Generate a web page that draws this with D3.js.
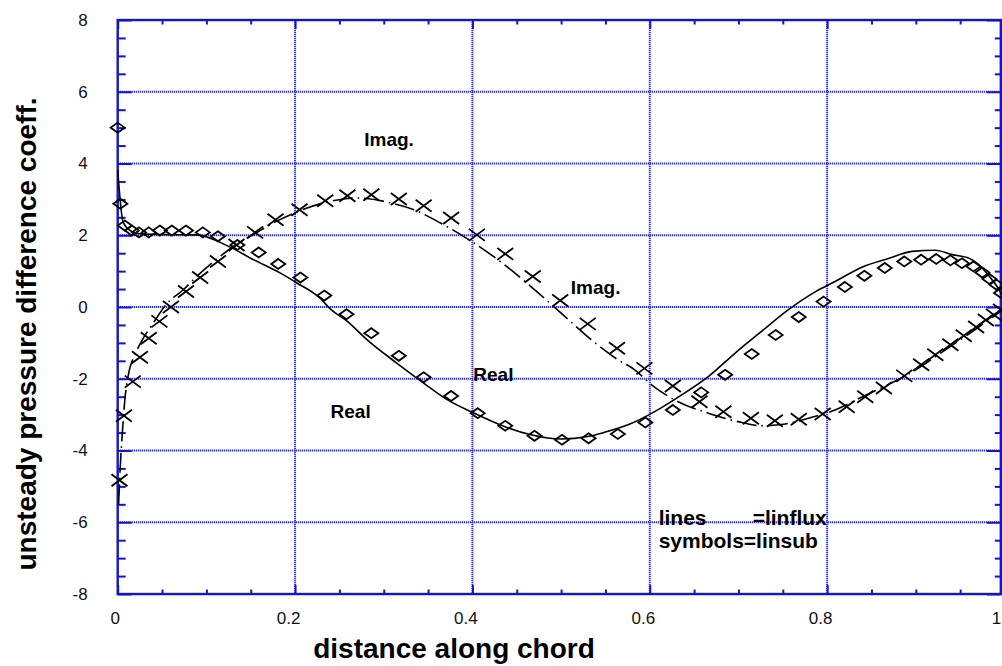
<!DOCTYPE html>
<html>
<head>
<meta charset="utf-8">
<script src="https://cdn.jsdelivr.net/npm/d3@7"></script>
<style>
  html, body { margin: 0; padding: 0; background: #fff; }
  svg { display: block; }
  text { font-family: "Liberation Sans", Arial, sans-serif; }
</style>
</head>
<body>
<svg id="chart" width="1002" height="666"></svg>
<script>
// ---- data: unsteady pressure difference along the chord ----

// linsub, real part (diamond symbols)
const realSymX = [0.0, 0.003, 0.008, 0.016, 0.024, 0.035, 0.0475, 0.061, 0.077, 0.096, 0.113, 0.135, 0.159, 0.181, 0.206, 0.233, 0.258, 0.286, 0.317, 0.345, 0.376, 0.406, 0.437, 0.470, 0.501, 0.531, 0.564, 0.595, 0.626, 0.658, 0.685, 0.715, 0.742, 0.768, 0.796, 0.820, 0.842, 0.865, 0.887, 0.906, 0.923, 0.939, 0.952, 0.965, 0.975, 0.983, 0.991, 0.996];
const realSymY = [5.0, 2.88, 2.27, 2.13, 2.08, 2.08, 2.13, 2.13, 2.13, 2.08, 1.97, 1.73, 1.52, 1.20, 0.82, 0.32, -0.20, -0.73, -1.36, -1.96, -2.48, -2.96, -3.31, -3.59, -3.70, -3.66, -3.54, -3.22, -2.87, -2.38, -1.89, -1.31, -0.78, -0.28, 0.15, 0.56, 0.87, 1.09, 1.27, 1.32, 1.34, 1.30, 1.22, 1.13, 0.96, 0.78, 0.62, 0.39];

// linsub, imaginary part (cross symbols)
const imagSymX = [0.002, 0.007, 0.017, 0.025, 0.035, 0.047, 0.060, 0.077, 0.093, 0.113, 0.134, 0.155, 0.178, 0.205, 0.234, 0.259, 0.286, 0.317, 0.345, 0.376, 0.405, 0.437, 0.468, 0.499, 0.530, 0.563, 0.594, 0.626, 0.656, 0.683, 0.714, 0.741, 0.768, 0.795, 0.822, 0.843, 0.864, 0.887, 0.906, 0.922, 0.939, 0.954, 0.968, 0.979, 0.988, 0.996];
const imagSymY = [-4.83, -3.03, -2.08, -1.40, -0.87, -0.40, 0.0, 0.43, 0.82, 1.27, 1.73, 2.08, 2.43, 2.71, 2.96, 3.10, 3.13, 3.01, 2.82, 2.48, 2.01, 1.48, 0.85, 0.18, -0.47, -1.15, -1.71, -2.20, -2.64, -2.92, -3.10, -3.17, -3.13, -2.98, -2.78, -2.50, -2.26, -1.92, -1.61, -1.33, -1.05, -0.80, -0.56, -0.36, -0.22, -0.08];

// linflux, real part (solid line)
const realLineX = [0.0, 0.006, 0.014, 0.025, 0.05, 0.089, 0.125, 0.153, 0.183, 0.202, 0.228, 0.240, 0.259, 0.281, 0.315, 0.345, 0.372, 0.402, 0.436, 0.466, 0.500, 0.530, 0.548, 0.577, 0.606, 0.636, 0.666, 0.696, 0.726, 0.756, 0.787, 0.809, 0.839, 0.870, 0.896, 0.922, 0.941, 0.960, 0.971, 0.983, 0.994, 1.0];
const realLineY = [3.82, 2.38, 2.13, 2.04, 2.02, 2.01, 1.69, 1.32, 0.95, 0.67, 0.25, -0.06, -0.40, -0.91, -1.57, -2.12, -2.59, -2.96, -3.33, -3.56, -3.68, -3.61, -3.50, -3.27, -2.91, -2.45, -1.94, -1.29, -0.68, -0.08, 0.43, 0.71, 1.11, 1.36, 1.55, 1.58, 1.46, 1.36, 1.18, 0.85, 0.48, 0.20];

// linflux, imaginary part (dash-dot line)
const imagLineX = [0.001, 0.003, 0.005, 0.008, 0.012, 0.020, 0.027, 0.040, 0.055, 0.074, 0.089, 0.110, 0.130, 0.155, 0.180, 0.205, 0.235, 0.270, 0.308, 0.334, 0.364, 0.402, 0.436, 0.466, 0.500, 0.534, 0.564, 0.583, 0.602, 0.632, 0.666, 0.704, 0.726, 0.753, 0.779, 0.809, 0.840, 0.870, 0.900, 0.930, 0.960, 0.980, 1.0];
const imagLineY = [-5.5, -4.4, -3.6, -2.6, -1.9, -1.3, -0.95, -0.45, 0.08, 0.48, 0.85, 1.30, 1.68, 2.05, 2.40, 2.68, 2.92, 3.04, 2.90, 2.71, 2.34, 1.78, 1.18, 0.57, -0.17, -0.91, -1.47, -1.75, -2.17, -2.64, -2.96, -3.22, -3.31, -3.26, -3.10, -2.87, -2.50, -2.15, -1.75, -1.25, -0.75, -0.40, -0.05];

// axis ticks and labels
const xMajor = [0, 0.2, 0.4, 0.6, 0.8, 1];
const xTickLabels = ["0", "0.2", "0.4", "0.6", "0.8", "1"];
const xMinor = [0.05, 0.1, 0.15, 0.25, 0.3, 0.35, 0.45, 0.5, 0.55, 0.65, 0.7, 0.75, 0.85, 0.9, 0.95];
const yMajor = [-8, -6, -4, -2, 0, 2, 4, 6, 8];
const yTickLabels = ["-8", "-6", "-4", "-2", "0", "2", "4", "6", "8"];
const yMinor = [-7.5, -7, -6.5, -5.5, -5, -4.5, -3.5, -3, -2.5, -1.5, -1, -0.5, 0.5, 1, 1.5, 2.5, 3, 3.5, 4.5, 5, 5.5, 6.5, 7, 7.5];

// in-plot annotations
const notes = [
  { text: "Imag.", x: 0.278, y: 4.5 },
  { text: "Imag.", x: 0.511, y: 0.37 },
  { text: "Real",  x: 0.401, y: -2.07 },
  { text: "Real",  x: 0.240, y: -3.1 }
];
const legendLines = ["lines", "=linflux", "symbols=linsub"];

// ---- drawing ----
const W = 1002, H = 666;
const svg = d3.select("#chart");

const x = d3.scaleLinear().domain([0, 1]).range([117.7, 1004.5]);
const y = d3.scaleLinear().domain([-8, 8]).range([594, 20]);
const plotLeft = x(0), plotTop = y(8), plotBottom = y(-8);
const plotRight = Math.min(x(1), W - 1.2);

const BLUE = "#1414c8";
const GRID = "#3030d8";

// dotted grid at major ticks
const grid = svg.append("g");
grid.selectAll("line.gx").data(xMajor.slice(1, -1)).join("line")
  .attr("x1", d => x(d)).attr("x2", d => x(d))
  .attr("y1", plotTop).attr("y2", plotBottom)
  .attr("stroke", GRID).attr("stroke-width", 2).attr("stroke-dasharray", "1.3,0.7");
grid.selectAll("line.gy").data(yMajor.slice(1, -1)).join("line")
  .attr("x1", plotLeft).attr("x2", plotRight)
  .attr("y1", d => y(d)).attr("y2", d => y(d))
  .attr("stroke", GRID).attr("stroke-width", 2).attr("stroke-dasharray", "1.3,0.7");

// inward tick marks on all four sides
function ticks(axis, transform, values, size) {
  const g = svg.append("g").attr("transform", transform)
    .call(axis.tickValues(values).tickSize(size).tickFormat(""));
  g.select(".domain").remove();
  g.selectAll(".tick line").attr("stroke", BLUE).attr("stroke-width", 2);
}
ticks(d3.axisLeft(y),   `translate(${plotLeft},0)`,  yMajor, -14);
ticks(d3.axisLeft(y),   `translate(${plotLeft},0)`,  yMinor, -8);
ticks(d3.axisRight(y),  `translate(${plotRight},0)`, yMajor, -14);
ticks(d3.axisRight(y),  `translate(${plotRight},0)`, yMinor, -6);
ticks(d3.axisBottom(x), `translate(0,${plotBottom})`, xMajor, -9);
ticks(d3.axisBottom(x), `translate(0,${plotBottom})`, xMinor, -4.5);
ticks(d3.axisTop(x),    `translate(0,${plotTop})`,    xMajor, -9);
ticks(d3.axisTop(x),    `translate(0,${plotTop})`,    xMinor, -4.5);

// frame
svg.append("rect")
  .attr("x", plotLeft).attr("y", plotTop)
  .attr("width", plotRight - plotLeft).attr("height", plotBottom - plotTop)
  .attr("fill", "none").attr("stroke", BLUE).attr("stroke-width", 2.4);

// tick labels
const yLab = svg.append("g").attr("transform", `translate(${plotLeft},0)`)
  .call(d3.axisLeft(y).tickValues(yMajor).tickSize(0).tickPadding(30)
    .tickFormat((d, i) => yTickLabels[i]));
yLab.select(".domain").remove();
yLab.selectAll("text").attr("font-size", 17).attr("fill", "#111")
  .style("font-family", "'Liberation Sans', Arial, sans-serif");

const xLab = svg.append("g").attr("transform", `translate(0,${plotBottom})`)
  .call(d3.axisBottom(x).tickValues(xMajor).tickSize(0).tickPadding(17.5)
    .tickFormat((d, i) => xTickLabels[i]));
xLab.select(".domain").remove();
xLab.selectAll("text").attr("font-size", 17).attr("fill", "#111")
  // keep the last label inside the page edge
  .attr("dx", (d, i) => i === xMajor.length - 1 ? -8.5 : (xTickLabels[i].length > 1 ? -7 : -3))
  .style("font-family", "'Liberation Sans', Arial, sans-serif");

// axis titles
svg.append("text")
  .attr("x", 454).attr("y", 658)
  .attr("text-anchor", "middle")
  .attr("font-size", 28).attr("font-weight", "bold").attr("fill", "#000")
  .text("distance along chord");
svg.append("text")
  .attr("transform", "translate(36,334) rotate(-90)")
  .attr("text-anchor", "middle")
  .attr("font-size", 28).attr("font-weight", "bold").attr("fill", "#000")
  .text("unsteady pressure difference coeff.");

// linflux curves
const curve = d3.line().x(d => x(d[0])).y(d => y(d[1])).curve(d3.curveMonotoneX);
svg.append("path")
  .datum(d3.zip(realLineX, realLineY))
  .attr("d", curve)
  .attr("fill", "none").attr("stroke", "#000").attr("stroke-width", 1.6);

svg.append("path")
  .datum(d3.zip(imagLineX, imagLineY))
  .attr("d", curve)
  .attr("fill", "none").attr("stroke", "#000").attr("stroke-width", 1.6)
  .attr("stroke-dasharray", "20,5,1.5,5");

// linsub symbols
svg.append("g").selectAll("path")
  .data(d3.zip(realSymX, realSymY)).join("path")
  .attr("transform", d => `translate(${x(d[0])},${y(d[1])})`)
  .attr("d", "M0,-5L7,0L0,5L-7,0Z")
  .attr("fill", "none").attr("stroke", "#000").attr("stroke-width", 1.8);

svg.append("g").selectAll("path")
  .data(d3.zip(imagSymX, imagSymY)).join("path")
  .attr("transform", d => `translate(${x(d[0])},${y(d[1])})`)
  .attr("d", "M-8,-6L8,6M-8,6L8,-6")
  .attr("fill", "none").attr("stroke", "#000").attr("stroke-width", 1.8);

// annotations
svg.append("g").selectAll("text")
  .data(notes).join("text")
  .attr("x", d => x(d.x)).attr("y", d => y(d.y))
  .attr("font-size", 19).attr("font-weight", "bold").attr("fill", "#000")
  .text(d => d.text);

// legend note
const leg = svg.append("g").attr("font-size", 21).attr("font-weight", "bold").attr("fill", "#000");
leg.append("text").attr("x", x(0.61)).attr("y", y(-6.08)).text(legendLines[0]);
leg.append("text").attr("x", x(0.716)).attr("y", y(-6.08)).text(legendLines[1]);
leg.append("text").attr("x", x(0.61)).attr("y", y(-6.72)).text(legendLines[2]);
</script>
</body>
</html>
